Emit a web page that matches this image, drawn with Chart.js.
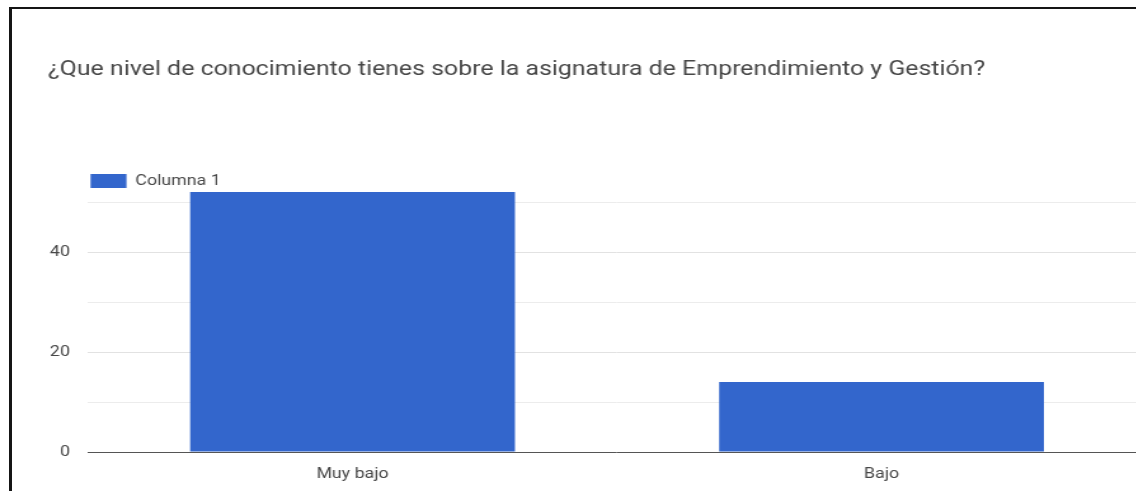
<!DOCTYPE html>
<html>
<head>
<meta charset="utf-8">
<script src="https://cdn.jsdelivr.net/npm/chart.js@4.4.0/dist/chart.umd.min.js"></script>
<style>
  html, body { margin: 0; padding: 0; background: #fff; overflow: hidden; width: 1136px; height: 491px; }
  #wrap { position: absolute; left: 0; top: 0; width: 912px; height: 491px; transform: scaleX(1.27); transform-origin: 0 0; }
  #frame { position: absolute; left: 9px; top: 7px; width: 1300px; height: 700px; box-sizing: border-box;
           border-left: 3px solid #151515; border-top: 2px solid #151515; pointer-events: none; }
</style>
</head>
<body>
<div id="wrap"><canvas id="chart"></canvas></div>
<div id="frame"></div>
<script>
// Survey answers: knowledge level of the "Emprendimiento y Gestión" subject
const chartTitle = '¿Que nivel de conocimiento tienes sobre la asignatura de Emprendimiento y Gestión?';
const seriesName = 'Columna 1';
const categories = ['Muy bajo', 'Bajo'];
const responses = [52, 14];

// Value axis: gridlines every 10, labels every 20
const yGridValues = [0, 10, 20, 30, 40, 50];
const yTickLabels = ['0', '', '20', '', '40', ''];
const yMax = 56;

const barColor = '#3366cc';
const textColor = '#474747';

// Keeps the legend pinned to the top-left corner of the plot area
const legendInPlot = {
  id: 'legendInPlot',
  afterLayout(chart) {
    const lg = chart.legend;
    if (!lg) return;
    const h = lg.height;
    lg.top = chart.chartArea.top;
    lg.bottom = lg.top + h;
    lg.left = chart.chartArea.left;
  }
};

new Chart(document.getElementById('chart'), {
  type: 'bar',
  data: {
    labels: categories,
    datasets: [{
      label: seriesName,
      data: responses,
      backgroundColor: barColor,
      borderWidth: 0,
      categoryPercentage: 1,
      barPercentage: 0.614
    }]
  },
  plugins: [legendInPlot],
  options: {
    responsive: true,
    maintainAspectRatio: false,
    animation: false,
    layout: { padding: { left: 37.8, right: 9.6, top: 0, bottom: 0 } },
    plugins: {
      title: {
        display: true,
        text: chartTitle,
        align: 'start',
        color: textColor,
        font: { family: 'Roboto', size: 19.6, weight: 'normal' },
        padding: { top: 58, bottom: 90.5 }
      },
      legend: {
        position: 'chartArea',
        align: 'start',
        labels: {
          boxWidth: 28.3,
          boxHeight: 14,
          padding: 2,
          color: textColor,
          font: { family: 'Roboto', size: 14 }
        }
      },
      tooltip: { enabled: false }
    },
    scales: {
      x: {
        grid: { display: false, drawTicks: false },
        border: { display: false },
        ticks: { color: textColor, font: { family: 'Roboto', size: 14 }, padding: 13.6, maxRotation: 0 },
        afterFit: s => { s.height = 39; }
      },
      y: {
        min: 0,
        max: yMax,
        border: { display: false },
        grid: {
          drawTicks: false,
          color: ctx => ctx.tick && ctx.tick.value === 0 ? '#555555' : (ctx.tick && ctx.tick.value % 20 === 0 ? '#e2e2e2' : '#ececec'),
          lineWidth: 1
        },
        afterBuildTicks: s => { s.ticks = yGridValues.map(v => ({ value: v })); },
        ticks: {
          autoSkip: false,
          color: textColor,
          font: { family: 'Roboto', size: 14 },
          padding: 14.2,
          callback: v => yTickLabels[yGridValues.indexOf(v)]
        },
        afterFit: s => { s.width = 31.5; }
      }
    }
  }
});
</script>
</body>
</html>
